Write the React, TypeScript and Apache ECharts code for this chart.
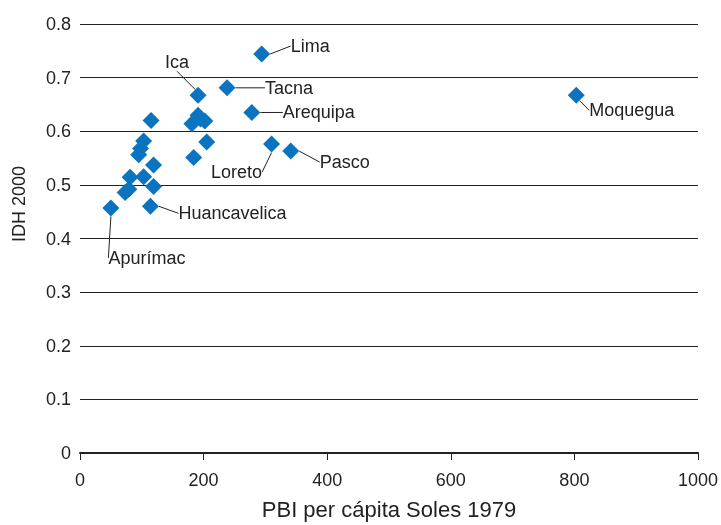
import React, { useEffect, useRef } from "react";
import * as echarts from "echarts";

const names = [
  "Lima", "Moquegua", "Tacna", "Arequipa", "Loreto", "Pasco", "Ica", "Huancavelica", "Apurímac",
  "", "", "", "", "", "", "", "", "", "", "", "", "", "", "", "",
];
const pbi = [
  294, 803, 238, 278, 310, 341, 191, 114, 50,
  191, 202, 181, 195, 205, 184, 115, 103, 98, 95, 119, 81, 103, 119, 79, 73,
];
const idh = [
  0.744, 0.667, 0.681, 0.635, 0.576, 0.563, 0.667, 0.46, 0.457,
  0.63, 0.619, 0.614, 0.623, 0.58, 0.551, 0.62, 0.582, 0.568, 0.556, 0.537, 0.514, 0.515, 0.497, 0.492, 0.486,
];
// label offsets from point centre (px) and alignment
const labelDx = [29, 13, 38, 31, -35, 29, -21, 28, 36];
const labelDy = [-8, 15, 0, 0, 28, 11, -33, 7, 50];
const labelAlign = ["left", "left", "left", "left", "center", "left", "center", "left", "center"];

const FONT = "'Liberation Sans', Arial, sans-serif";
const TEXT = "#222222";

export default function App() {
  const ref = useRef<HTMLDivElement>(null);
  useEffect(() => {
    if (!ref.current) return;
    const chart = echarts.init(ref.current, undefined, { renderer: "svg" });
    const data = pbi.map((x, i) => ({ name: names[i], value: [x, idh[i]] }));
    chart.setOption({
      animation: false,
      grid: { left: 80, right: 21, top: 24, bottom: 70 },
      xAxis: {
        type: "value",
        min: 0,
        max: 1000,
        interval: 200,
        name: "PBI per cápita Soles 1979",
        nameLocation: "middle",
        nameGap: 45,
        nameTextStyle: { fontSize: 22, color: TEXT, fontFamily: FONT },
        axisLine: { show: true, lineStyle: { color: "#222222", width: 2 } },
        axisTick: { show: true, length: 7, lineStyle: { color: "#222222", width: 1 } },
        axisLabel: {
          fontSize: 18,
          color: TEXT,
          fontFamily: FONT,
          margin: 18,
          formatter: (v: number) => String(v),
        },
        splitLine: { show: false },
      },
      yAxis: {
        type: "value",
        min: 0,
        max: 0.8,
        interval: 0.1,
        axisLine: { show: false },
        axisTick: { show: false },
        axisLabel: { fontSize: 18, color: TEXT, fontFamily: FONT, margin: 9 },
        splitLine: { show: true, lineStyle: { color: "#222222", width: 1 } },
      },
      graphic: [
        {
          type: "text",
          x: 19,
          y: 204,
          rotation: Math.PI / 2,
          style: {
            text: "IDH 2000",
            fontSize: 18,
            fontFamily: FONT,
            fill: TEXT,
            textAlign: "center",
            textVerticalAlign: "middle",
          },
        },
      ],
      series: [
        {
          type: "scatter",
          symbol: "diamond",
          symbolSize: 17,
          itemStyle: { color: "#0a74c0", opacity: 1 },
          data,
          label: {
            show: true,
            formatter: (p: any) => p.name,
            fontSize: 18,
            fontFamily: FONT,
            color: TEXT,
          },
          labelLine: { show: true, lineStyle: { color: "#222222", width: 1 } },
          labelLayout: (p: any) => {
            const i = p.dataIndex;
            if (i >= labelDx.length) return {};
            const cx = p.rect.x + p.rect.width / 2;
            const cy = p.rect.y + p.rect.height / 2;
            return {
              x: cx + labelDx[i],
              y: cy + labelDy[i],
              align: labelAlign[i],
              verticalAlign: "middle",
            };
          },
        },
      ],
    });
    return () => chart.dispose();
  }, []);
  return (
    <div
      ref={ref}
      style={{ position: "fixed", left: 0, top: 0, width: 721, height: 525 }}
    />
  );
}
